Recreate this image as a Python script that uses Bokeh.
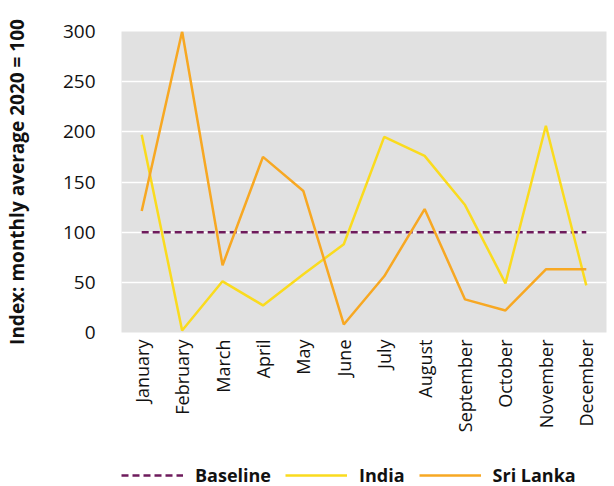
import math
from bokeh.plotting import figure
from bokeh.layouts import column
from bokeh.models import Legend, LegendItem, SingleIntervalTicker
from bokeh.embed import file_html
from bokeh.resources import INLINE

months = ["January", "February", "March", "April", "May", "June", "July",
          "August", "September", "October", "November", "December"]
baseline = [100] * 12
india = [197, 2, 51, 27, 58, 88, 195, 176, 127, 49, 206, 47]
sri_lanka = [121, 300, 67, 175, 141, 8, 56, 123, 33, 22, 63, 63]
series_names = ["Baseline", "India", "Sri Lanka"]

FONT = "Open Sans"
C_BASE, C_IND, C_SRI = "#6E1B5C", "#FADB1E", "#F7A823"

p = figure(x_range=months, y_range=(0, 300), frame_width=485, frame_height=301,
           output_backend="svg", toolbar_location=None,
           min_border_left=119, min_border_top=31, min_border_right=2,
           min_border_bottom=100)

p.background_fill_color = "#E1E1E1"
p.border_fill_color = "white"
p.outline_line_color = None

p.line(months, baseline, line_color=C_BASE, line_width=2.5, line_dash="7 4")
p.line(months, india, line_color=C_IND, line_width=2.5)
p.line(months, sri_lanka, line_color=C_SRI, line_width=2.5)

p.yaxis.ticker = SingleIntervalTicker(interval=50)
p.ygrid.grid_line_color = "white"
p.ygrid.grid_line_width = 1.5
p.xgrid.grid_line_color = None

for ax in (p.xaxis[0], p.yaxis[0]):
    ax.axis_line_color = None
    ax.major_tick_line_color = None
    ax.minor_tick_line_color = None
    ax.major_tick_out = 0
    ax.major_tick_in = 0
    ax.major_label_text_font = FONT
    ax.major_label_text_color = "#111111"

p.xaxis.major_label_text_font_size = "18px"
p.yaxis.major_label_text_font_size = "19px"
p.yaxis.major_label_standoff = 22
p.yaxis.axis_label = "Index: monthly average 2020 = 100"
p.yaxis.axis_label_text_font = FONT
p.yaxis.axis_label_text_font_style = "bold"
p.yaxis.axis_label_text_font_size = "19px"
p.yaxis.axis_label_text_color = "#111111"
p.yaxis.axis_label_standoff = 30

p.xaxis.major_label_orientation = math.pi / 2
p.xaxis.major_label_standoff = 7
p.x_range.range_padding = 0

# legend strip (separate small figure below the chart)
lg = figure(width=606, height=54, output_backend="svg", toolbar_location=None,
            x_axis_type=None, y_axis_type=None, min_border=0,
            x_range=(0, 1), y_range=(0, 1))
lg.outline_line_color = None
lg.xgrid.grid_line_color = None
lg.ygrid.grid_line_color = None
nan = float("nan")
rb = lg.line([nan], [nan], line_color=C_BASE, line_width=2.5, line_dash="7 4")
ri = lg.line([nan], [nan], line_color=C_IND, line_width=2.5)
rs = lg.line([nan], [nan], line_color=C_SRI, line_width=2.5)

legend = Legend(items=[
    LegendItem(label=series_names[0], renderers=[rb]),
    LegendItem(label=series_names[1], renderers=[ri]),
    LegendItem(label=series_names[2], renderers=[rs]),
], orientation="horizontal", location=(0, 2),
    glyph_width=62, glyph_height=20, label_standoff=12, spacing=14,
    label_text_font=FONT, label_text_font_style="bold",
    label_text_font_size="18px", label_text_color="#111111",
    background_fill_alpha=0, border_line_color=None, margin=0, padding=0)
lg.add_layout(legend, "center")

layout = column(p, lg, spacing=0)
open("out.html", "w").write(file_html(layout, INLINE))
